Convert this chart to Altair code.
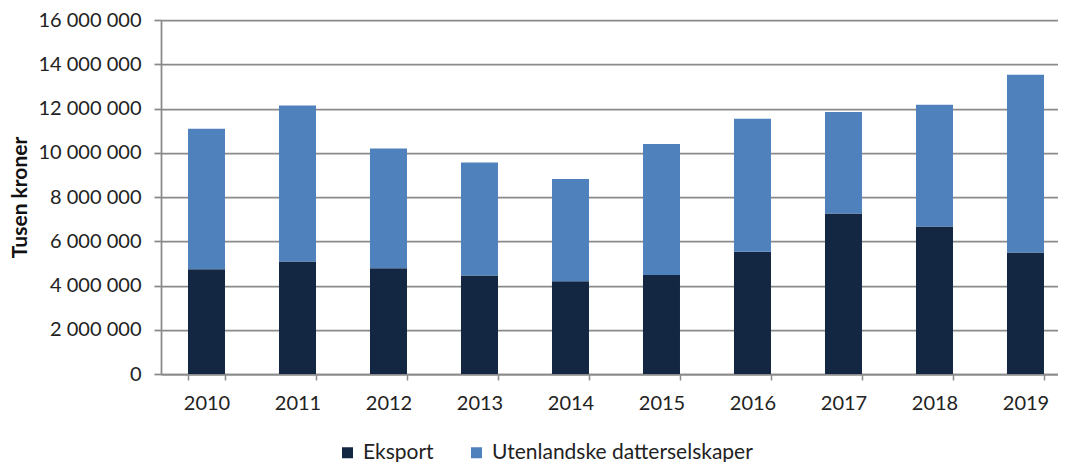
import altair as alt
import pandas as pd

years = ["2010", "2011", "2012", "2013", "2014", "2015", "2016", "2017", "2018", "2019"]
eksport = [4740000, 5080000, 4780000, 4450000, 4190000, 4480000, 5530000, 7250000, 6670000, 5490000]
totals = [11090000, 12130000, 10190000, 9560000, 8810000, 10390000, 11540000, 11840000, 12170000, 13520000]
datter = [t - e for t, e in zip(totals, eksport)]
series = ["Eksport", "Utenlandske datterselskaper"]
colors = ["#132742", "#4F81BD"]
y_ticks = [0, 2000000, 4000000, 6000000, 8000000, 10000000, 12000000, 14000000, 16000000]

rows = []
for i, y in enumerate(years):
    rows.append({"year": y, "series": series[0], "value": eksport[i], "ord": 0})
    rows.append({"year": y, "series": series[1], "value": datter[i], "ord": 1})
df = pd.DataFrame(rows)

FONT = "Lato"
grid_color = "#8a8a8a"

chart = alt.Chart(df).mark_bar(size=37).encode(
    x=alt.X("year:N", sort=years, title=None,
            scale=alt.Scale(paddingInner=0.6, paddingOuter=0.2286, align=0.656),
            axis=alt.Axis(labelAngle=0, labelFontSize=20, labelFont=FONT, labelColor="#222",
                          labelPadding=13, tickSize=6, tickBand="extent", tickColor=grid_color,
                          tickWidth=1.5, domainColor=grid_color, domainWidth=1.75, grid=False)),
    y=alt.Y("value:Q", stack="zero", title="Tusen kroner",
            scale=alt.Scale(domain=[0, 16000000], nice=False),
            axis=alt.Axis(values=y_ticks, labelFontSize=20, labelFont=FONT, labelColor="#222",
                          labelExpr="replace(format(datum.value, ','), /,/g, ' ')",
                          labelPadding=13, tickSize=7, tickColor=grid_color, tickWidth=1.75,
                          domainColor=grid_color, domainWidth=1.75,
                          gridColor=grid_color, gridWidth=1.75, gridOpacity=1,
                          titleFont=FONT, titleFontSize=21, titleFontWeight="bold", titleColor="#111",
                          titleAngle=-90, titleAlign="center", titleBaseline="middle",
                          titleX=-141, titleY=177)),
    color=alt.Color("series:N", sort=series,
                    scale=alt.Scale(domain=series, range=colors),
                    legend=alt.Legend(title=None, orient="none", direction="horizontal",
                                      legendX=176, legendY=422, symbolType="square",
                                      symbolSize=121, symbolStrokeWidth=0, labelFont=FONT,
                                      labelFontSize=21, labelColor="#222", columnPadding=32,
                                      labelOffset=5, labelLimit=0)),
    order=alt.Order("ord:Q", sort="ascending"),
).properties(
    width=897, height=354,
    autosize=alt.AutoSizeParams(type="none"),
    padding={"left": 153, "top": 12, "right": 0, "bottom": 88},
).configure_view(stroke=None).configure(background="white")

chart.save("out.html", embed_options={"renderer": "svg", "actions": False})
